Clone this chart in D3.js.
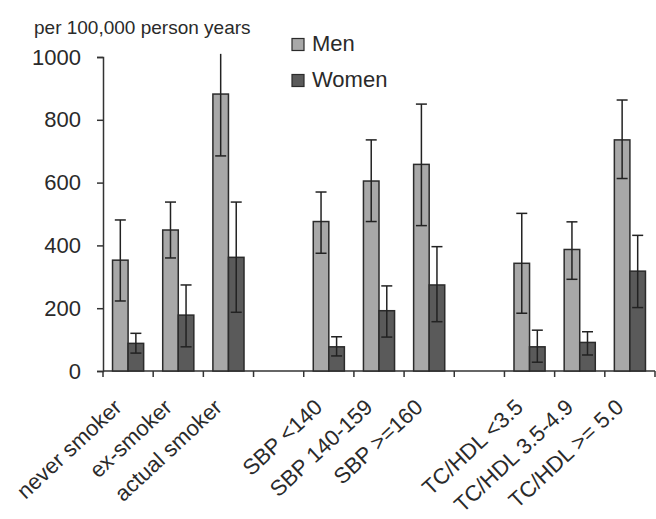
<!DOCTYPE html>
<html lang="en">
	<head>
		<meta charset="UTF-8" />
		<title>Incidence per 100,000 person years</title>
		<script src="https://cdn.jsdelivr.net/npm/d3@7"></script>
		<style>
			body { margin: 0; background: #fff; }
			svg text { font-family: "Liberation Sans", Arial, sans-serif; fill: #2a2a2a; }
		</style>
	</head>
	<body>
		<svg id="chart"></svg>

		<script>
			// categories (the two empty ones are the gaps between groups)
			var categories = ["never smoker", "ex-smoker", "actual smoker", "",
				"SBP <140", "SBP 140-159", "SBP >=160", "",
				"TC/HDL <3.5", "TC/HDL 3.5-4.9", "TC/HDL >= 5.0"];

			var men = [353, 449, 882, null, 476, 605, 658, null, 343, 387, 736];
			var menLow = [223, 360, 685, null, 375, 476, 463, null, 184, 292, 613];
			var menHigh = [481, 538, 1080, null, 570, 736, 850, null, 502, 475, 863];

			var women = [88, 178, 362, null, 77, 192, 274, null, 77, 91, 318];
			var womenLow = [57, 77, 187, null, 48, 108, 157, null, 28, 51, 202];
			var womenHigh = [120, 274, 538, null, 109, 271, 396, null, 130, 125, 432];

			var yTicks = [0, 200, 400, 600, 800, 1000];
			var seriesNames = ["Men", "Women"];

			(function () {
				var width = 656;
				var height = 519;
				var left = 103, right = 655, top = 57, bottom = 371;
				var colors = ["#a8a8a8", "#5a5a5a"];

				var svg = d3.select("#chart").attr("width", width).attr("height", height);

				var x = d3.scaleBand()
					.domain(d3.range(categories.length))
					.range([left, right]);
				var y = d3.scaleLinear().domain([0, 1000]).range([bottom, top]);
				var barW = x.bandwidth() * 0.31;

				// y axis
				var yAxis = d3.axisLeft(y).tickValues(yTicks).tickFormat(d3.format("d"))
					.tickSize(6).tickPadding(16);
				var gy = svg.append("g").attr("transform", "translate(" + left + ",0)").call(yAxis);
				gy.select(".domain").attr("stroke", "#333").attr("stroke-width", 1.5);
				gy.selectAll(".tick line").attr("stroke", "#333").attr("stroke-width", 1.5);
				gy.selectAll(".tick text").attr("font-size", 22).attr("font-family", null);

				// x axis line and ticks at band edges
				svg.append("line")
					.attr("x1", left).attr("x2", right)
					.attr("y1", bottom).attr("y2", bottom)
					.attr("stroke", "#333").attr("stroke-width", 1.5);
				svg.selectAll(".xtick")
					.data(d3.range(categories.length + 1))
					.enter()
					.append("line")
					.attr("class", "xtick")
					.attr("x1", function (i) { return i < categories.length ? x(i) : x.range()[1]; })
					.attr("x2", function (i) { return i < categories.length ? x(i) : x.range()[1]; })
					.attr("y1", bottom).attr("y2", bottom + 6)
					.attr("stroke", "#333").attr("stroke-width", 1.5);

				// category labels, rotated
				svg.selectAll(".xlabel")
					.data(d3.range(categories.length))
					.enter()
					.append("text")
					.attr("class", "xlabel")
					.attr("text-anchor", "end")
					.attr("font-size", 22)
					.attr("transform", function (i) {
						return "translate(" + (x(i) + x.bandwidth() / 2 - 5) + "," + (bottom + 38) + ") rotate(-43)";
					})
					.text(function (i) { return categories[i]; });

				// bars + error bars for both series
				var series = [
					{ vals: men, lo: menLow, hi: menHigh, off: -barW },
					{ vals: women, lo: womenLow, hi: womenHigh, off: 0 }
				];
				var yClip = 1010;

				series.forEach(function (s, k) {
					var idx = d3.range(categories.length).filter(function (i) { return s.vals[i] != null; });
					var cx = function (i) { return x(i) + x.bandwidth() / 2 + s.off + barW / 2; };

					svg.selectAll(".bar" + k)
						.data(idx)
						.enter()
						.append("rect")
						.attr("x", function (i) { return cx(i) - barW / 2; })
						.attr("y", function (i) { return y(s.vals[i]); })
						.attr("width", barW)
						.attr("height", function (i) { return y(0) - y(s.vals[i]); })
						.attr("fill", colors[k])
						.attr("stroke", "#2b2b2b")
						.attr("stroke-width", 1.5);

					var err = svg.selectAll(".err" + k)
						.data(idx)
						.enter()
						.append("g")
						.attr("stroke", "#222")
						.attr("stroke-width", 1.5);
					err.append("line")
						.attr("x1", cx).attr("x2", cx)
						.attr("y1", function (i) { return y(s.lo[i]); })
						.attr("y2", function (i) { return y(Math.min(s.hi[i], yClip)); });
					err.append("line")
						.attr("x1", function (i) { return cx(i) - 5.5; })
						.attr("x2", function (i) { return cx(i) + 5.5; })
						.attr("y1", function (i) { return y(s.lo[i]); })
						.attr("y2", function (i) { return y(s.lo[i]); });
					err.filter(function (i) { return s.hi[i] <= yClip; })
						.append("line")
						.attr("x1", function (i) { return cx(i) - 5.5; })
						.attr("x2", function (i) { return cx(i) + 5.5; })
						.attr("y1", function (i) { return y(s.hi[i]); })
						.attr("y2", function (i) { return y(s.hi[i]); });
				});

				// unit label
				svg.append("text")
					.attr("x", 34).attr("y", 34)
					.attr("font-size", 19)
					.text("per 100,000 person years");

				// legend
				var legend = svg.selectAll(".legend")
					.data(seriesNames)
					.enter()
					.append("g")
					.attr("transform", function (d, i) { return "translate(292," + (38.5 + i * 36) + ")"; });
				legend.append("rect")
					.attr("width", 12).attr("height", 12)
					.attr("fill", function (d, i) { return colors[i]; })
					.attr("stroke", "#2b2b2b").attr("stroke-width", 1.2);
				legend.append("text")
					.attr("x", 20).attr("y", 12.5)
					.attr("font-size", 22)
					.text(function (d) { return d; });
			}).call(this);
		</script>
	</body>
</html>
